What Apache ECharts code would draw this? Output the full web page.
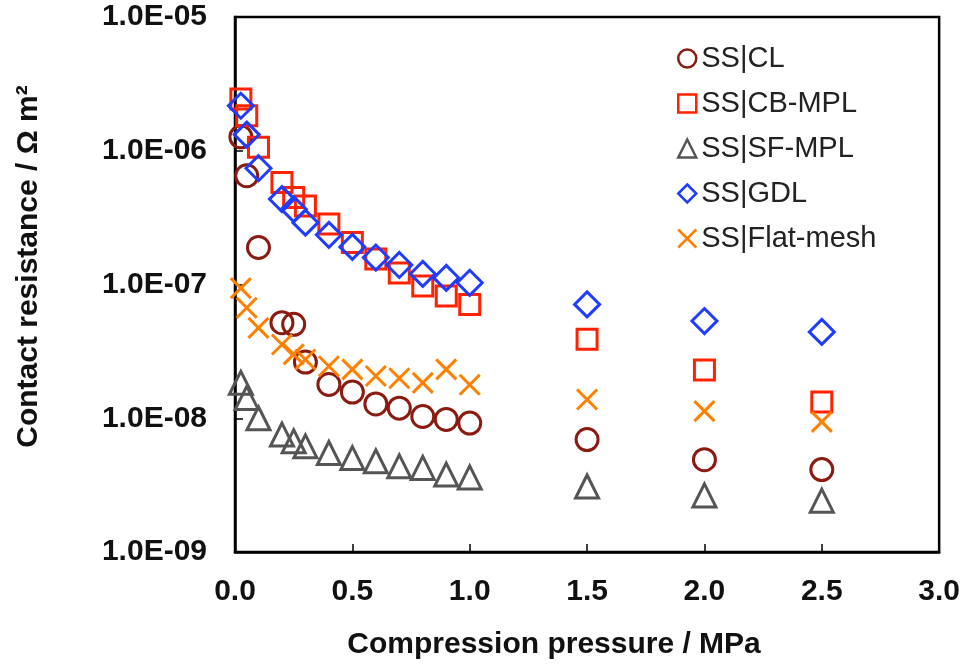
<!DOCTYPE html>
<html>
<head>
<meta charset="utf-8">
<script src="https://cdn.jsdelivr.net/npm/echarts@6/dist/echarts.min.js"></script>
<style>
  html, body { margin: 0; padding: 0; background: #fff; }
  #chart { width: 963px; height: 670px; }
</style>
</head>
<body>
<div id="chart"></div>
<script>
// Compression pressure (MPa) at which each contact resistance was measured
const pressure = [0.025, 0.05, 0.1, 0.2, 0.25, 0.3, 0.4, 0.5, 0.6, 0.7, 0.8, 0.9, 1.0, 1.5, 2.0, 2.5];

// Contact resistance (Ω m²) for each interface
const ssCL = [1.27e-6, 6.5e-7, 1.89e-7, 5.18e-8, 5.04e-8, 2.63e-8, 1.79e-8, 1.57e-8, 1.28e-8, 1.19e-8, 1.03e-8, 9.8e-9, 9.2e-9, 6.93e-9, 4.9e-9, 4.13e-9];
const ssCBMPL = [2.44e-6, 1.83e-6, 1.06e-6, 5.8e-7, 4.47e-7, 3.87e-7, 2.83e-7, 2.06e-7, 1.55e-7, 1.22e-7, 9.75e-8, 8.2e-8, 7.1e-8, 3.89e-8, 2.29e-8, 1.32e-8];
const ssSFMPL = [1.84e-8, 1.42e-8, 1.0e-8, 7.55e-9, 6.73e-9, 6.17e-9, 5.5e-9, 5.04e-9, 4.77e-9, 4.37e-9, 4.25e-9, 3.79e-9, 3.61e-9, 3.09e-9, 2.65e-9, 2.42e-9];
const ssGDL = [2.17e-6, 1.32e-6, 7.4e-7, 4.35e-7, 3.66e-7, 2.9e-7, 2.35e-7, 1.91e-7, 1.59e-7, 1.4e-7, 1.2e-7, 1.12e-7, 1.03e-7, 7.1e-8, 5.33e-8, 4.42e-8];
const ssFlatMesh = [9.4e-8, 6.7e-8, 4.74e-8, 3.56e-8, 3.0e-8, 2.75e-8, 2.45e-8, 2.32e-8, 2.07e-8, 1.99e-8, 1.84e-8, 2.32e-8, 1.78e-8, 1.38e-8, 1.13e-8, 9.4e-9];

const seriesNames = ['SS|CL', 'SS|CB-MPL', 'SS|SF-MPL', 'SS|GDL', 'SS|Flat-mesh'];
const yTickLabels = ['1.0E-09', '1.0E-08', '1.0E-07', '1.0E-06', '1.0E-05'];
const xTickLabels = ['0.0', '0.5', '1.0', '1.5', '2.0', '2.5', '3.0'];

const FONT = '"Liberation Sans", Arial, Helvetica, sans-serif';
const CROSS = 'path://M0,0L10,10M10,0L0,10';

// marker shape, size and outline colour of each series
const styles = [
  { symbol: 'circle',   size: 22, color: '#8b1a10' },
  { symbol: 'rect',     size: 20, color: '#ff2200' },
  { symbol: 'triangle', size: 23, color: '#555555' },
  { symbol: 'diamond',  size: 25, color: '#1f3cff' },
  { symbol: CROSS,      size: 20, color: '#ff8000' }
];

const values = [ssCL, ssCBMPL, ssSFMPL, ssGDL, ssFlatMesh];

const chart = echarts.init(document.getElementById('chart'), null, { renderer: 'canvas' });

chart.setOption({
  animation: false,
  backgroundColor: '#ffffff',
  textStyle: { fontFamily: FONT },
  grid: {
    left: 235, right: 22, top: 17, bottom: 118,
    show: true, borderColor: '#000', borderWidth: 2.5, backgroundColor: 'transparent'
  },
  legend: {
    orient: 'vertical',
    left: 672, top: 39,
    itemGap: 16,
    itemWidth: 18, itemHeight: 18,
    textStyle: { fontSize: 29, color: '#222', fontFamily: FONT },
    data: seriesNames.map((n, i) => ({
      name: n,
      icon: styles[i].symbol,
      itemStyle: { color: 'rgba(0,0,0,0)', borderColor: styles[i].color, borderWidth: 2.5 }
    }))
  },
  xAxis: {
    type: 'value', min: 0, max: 3, interval: 0.5,
    name: 'Compression pressure / MPa',
    nameLocation: 'middle', nameGap: 78,
    nameTextStyle: { fontSize: 30, fontWeight: 'bold', color: '#111', fontFamily: FONT, padding: [0, 66, 0, 0] },
    axisLine: { show: true, lineStyle: { color: '#000', width: 2.5 } },
    axisTick: { show: true, inside: true, length: 8, lineStyle: { color: '#000', width: 1.5 } },
    axisLabel: {
      margin: 25, fontSize: 30, fontWeight: 'bold', color: '#111', fontFamily: FONT,
      formatter: v => xTickLabels[Math.round(v / 0.5)]
    },
    splitLine: { show: false }
  },
  yAxis: {
    type: 'log', logBase: 10, min: 1e-9, max: 1e-5,
    name: 'Contact resistance / Ω m²',
    nameLocation: 'middle', nameGap: 191,
    nameTextStyle: { fontSize: 30, fontWeight: 'bold', color: '#111', fontFamily: FONT, padding: [0, 0, 0, 36] },
    axisLine: { show: true, lineStyle: { color: '#000', width: 2.5 } },
    axisTick: { show: true, inside: true, length: 8, lineStyle: { color: '#000', width: 1.5 } },
    minorTick: { show: false },
    axisLabel: {
      margin: 28, fontSize: 30, fontWeight: 'bold', color: '#111', fontFamily: FONT,
      formatter: v => yTickLabels[Math.round(Math.log10(v)) + 9]
    },
    splitLine: { show: false }
  },
  series: seriesNames.map((n, i) => ({
    name: n,
    type: 'scatter',
    symbol: styles[i].symbol,
    symbolSize: styles[i].size,
    itemStyle: { color: 'rgba(0,0,0,0)', borderColor: styles[i].color, borderWidth: 3, opacity: 1 },
    data: pressure.map((p, k) => [p, values[i][k]])
  }))
});
</script>
</body>
</html>
